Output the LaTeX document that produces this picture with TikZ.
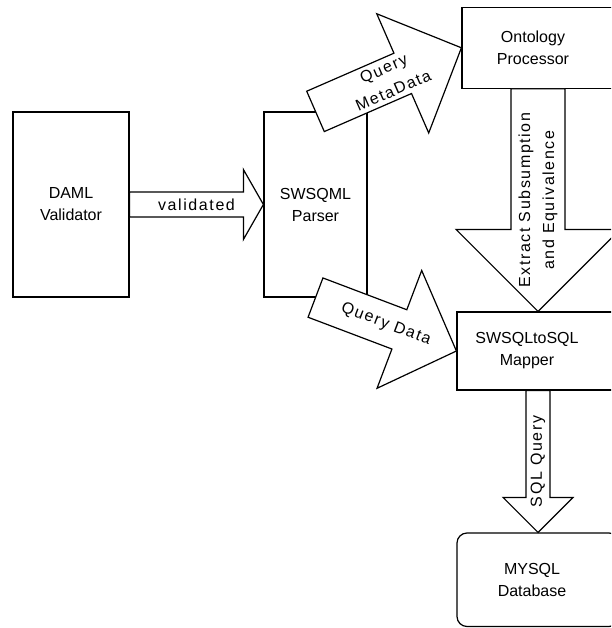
\documentclass[tikz,border=0pt]{standalone}
\usepackage{fontspec}
\setmainfont{Liberation Sans}
\usetikzlibrary{calc}
\tikzset{
	box/.style={draw, line width=1.2pt, fill=white, inner sep=0pt},
	boxtext/.style={align=center, font=\fontsize{16}{22}\selectfont},
	barrow/.style={draw, line width=1.2pt, fill=white, line join=miter},
	blabel/.style={sloped, align=center, inner sep=0pt, font=\fontsize{16}{24}\selectfont\addfontfeature{LetterSpace=10}},
}
\newcommand{\blockarrow}[6]{%
	\coordinate (hb) at ($(#2)!#5!(#1)$);
	\draw[barrow] ($(#1)!#3!90:(#2)$) -- ($(hb)!#3!90:(#2)$) -- ($(hb)!#4!90:(#2)$) -- (#2)
		-- ($(hb)!#4!-90:(#2)$) -- ($(hb)!#3!-90:(#2)$) -- ($(#1)!#3!-90:(#2)$) -- cycle;
	\path (#2) -- node[blabel] {#6} (#1);
}
\begin{document}
\begin{tikzpicture}[x=1pt, y=-1pt]
			\useasboundingbox (0,0) rectangle (611,628);
			\clip (0,0) rectangle (611,628);
			\node[box, boxtext, minimum width=116pt, minimum height=185pt] (daml) at (71,204.5) {DAML\\Validator};
			\node[box, boxtext, minimum width=103pt, minimum height=185pt] (parser) at (315.5,204.5) {SWSQML\\Parser};
			\node[box, minimum width=152pt, minimum height=81pt, label={[boxtext, xshift=-5pt]center:Ontology\\Processor}] (ont) at (538,47.8) {};
			\node[box, minimum width=162pt, minimum height=78pt, label={[boxtext, xshift=-11pt]center:SWSQLtoSQL\\Mapper}] (map) at (538,351) {};
			\node[box, rounded corners=10pt, minimum width=162pt, minimum height=93.5pt, label={[boxtext, xshift=-6pt]center:MYSQL\\Database}] (db) at (538,579.75) {};
			
			\blockarrow{daml.east}{parser.west}{12.5pt}{35pt}{20pt}{validated}
			\blockarrow{parser.north}{ont.west}{22pt}{65pt}{64pt}{Query\\MetaData}
			\blockarrow{parser.south}{map.west}{21pt}{63pt}{61pt}{Query Data}
			\blockarrow{ont.south}{map.north}{27pt}{82pt}{82pt}{Extract Subsumption\\and Equivalence}
			\blockarrow{map.south}{db.north}{12pt}{35pt}{35pt}{SQL Query}
\end{tikzpicture}
\end{document}
